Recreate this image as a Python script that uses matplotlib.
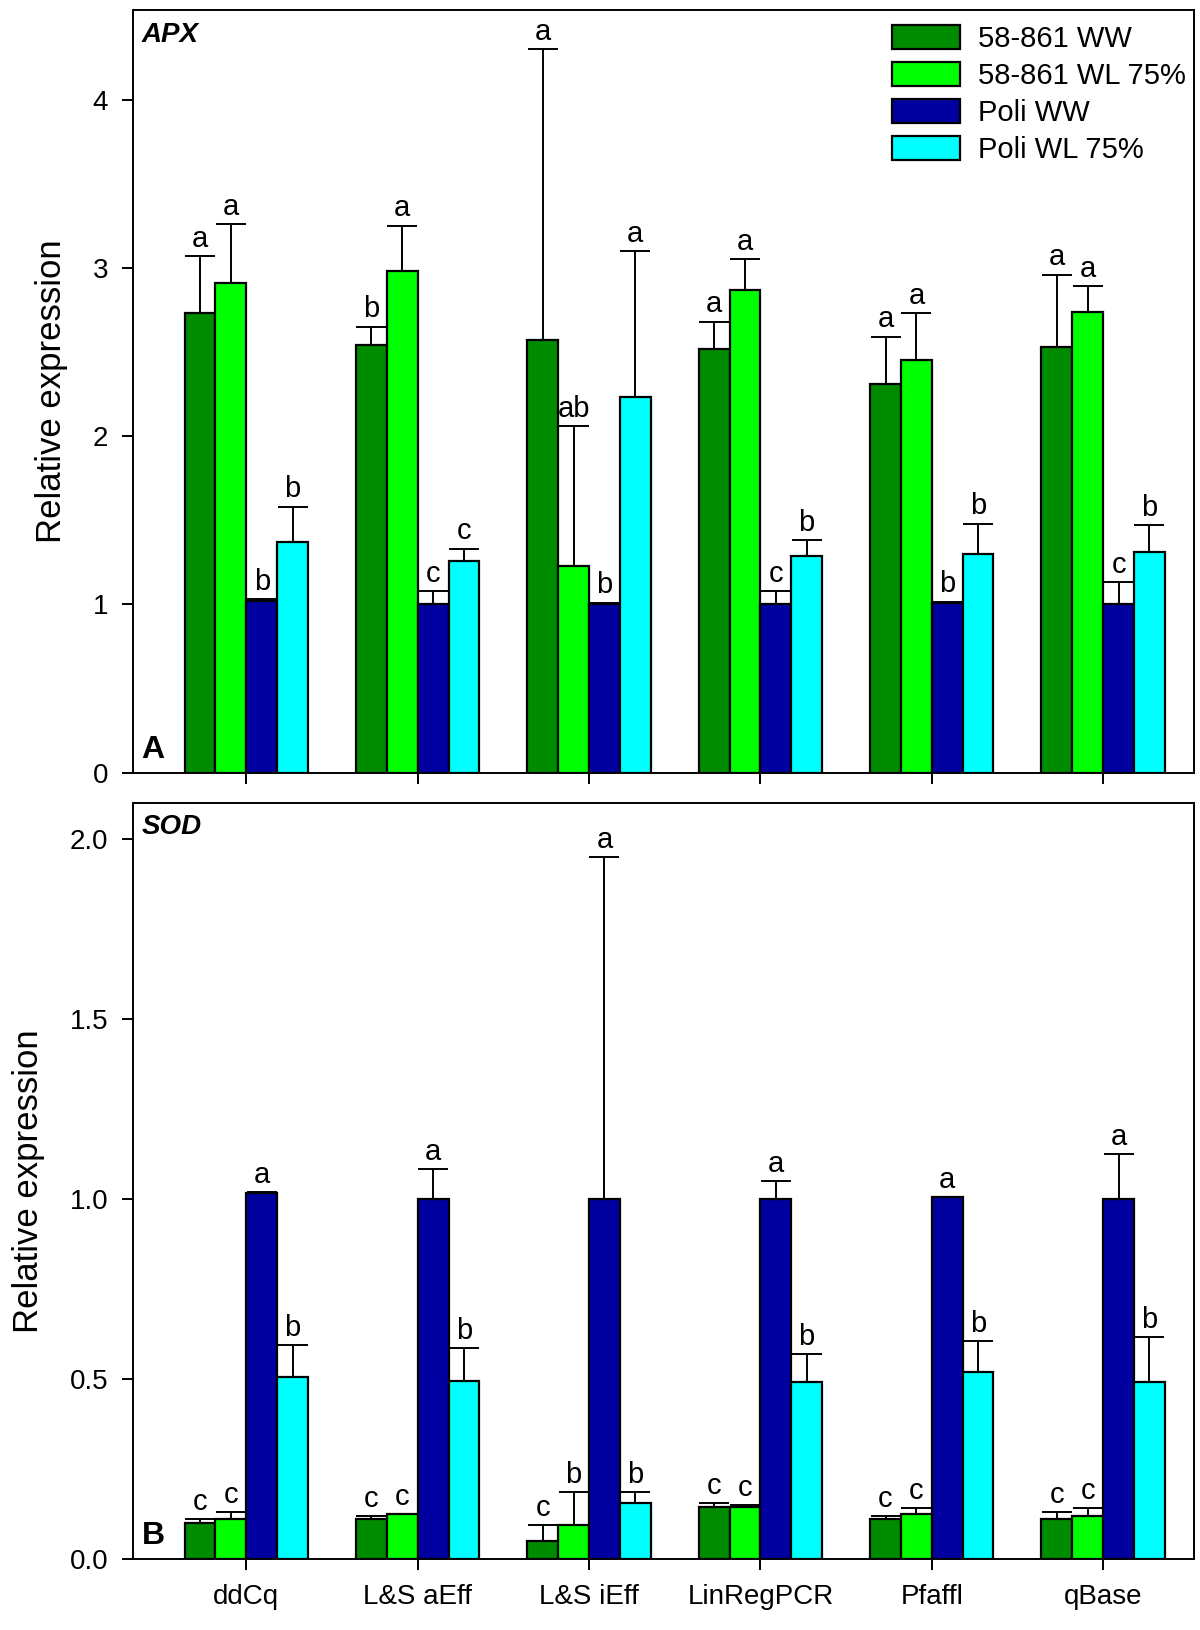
import numpy as np
import matplotlib.pyplot as plt

plt.rcParams['font.family'] = ['Liberation Sans', 'DejaVu Sans']

methods = ['ddCq', 'L&S aEff', 'L&S iEff', 'LinRegPCR', 'Pfaffl', 'qBase']
groups = ['58-861 WW', '58-861 WL 75%', 'Poli WW', 'Poli WL 75%']
colors = ['#008c00', '#00ff00', '#0000a0', '#00ffff']

# APX: means and top of error bar, one list per group
apx_mean = [
    [2.73, 2.54, 2.57, 2.52, 2.31, 2.53],
    [2.91, 2.98, 1.23, 2.87, 2.45, 2.74],
    [1.02, 1.00, 1.00, 1.00, 1.01, 1.00],
    [1.37, 1.26, 2.23, 1.29, 1.30, 1.31],
]
apx_top = [
    [3.07, 2.65, 4.30, 2.68, 2.59, 2.96],
    [3.26, 3.25, 2.06, 3.05, 2.73, 2.89],
    [1.03, 1.08, 1.01, 1.08, 1.015, 1.13],
    [1.58, 1.33, 3.10, 1.38, 1.48, 1.47],
]
apx_letters = [
    ['a', 'b', 'a', 'a', 'a', 'a'],
    ['a', 'a', 'ab', 'a', 'a', 'a'],
    ['b', 'c', 'b', 'c', 'b', 'c'],
    ['b', 'c', 'a', 'b', 'b', 'b'],
]

# SOD
sod_mean = [
    [0.10, 0.11, 0.05, 0.145, 0.11, 0.11],
    [0.11, 0.125, 0.095, 0.145, 0.125, 0.12],
    [1.015, 1.00, 1.00, 1.00, 1.005, 1.00],
    [0.505, 0.495, 0.155, 0.49, 0.52, 0.49],
]
sod_top = [
    [0.11, 0.12, 0.095, 0.155, 0.12, 0.13],
    [0.13, 0.125, 0.185, 0.15, 0.14, 0.14],
    [1.02, 1.083, 1.95, 1.05, 1.005, 1.125],
    [0.595, 0.585, 0.185, 0.57, 0.605, 0.615],
]
sod_letters = [
    ['c', 'c', 'c', 'c', 'c', 'c'],
    ['c', 'c', 'b', 'c', 'c', 'c'],
    ['a', 'a', 'a', 'a', 'a', 'a'],
    ['b', 'b', 'b', 'b', 'b', 'b'],
]

fig = plt.figure(figsize=(12, 16.3), dpi=100)
ax1 = fig.add_axes([0.111, 0.526, 0.884, 0.4676])
ax2 = fig.add_axes([0.111, 0.0437, 0.884, 0.4638])

x = np.arange(len(methods))
w = 0.18


def panel(ax, mean, top, letters, ylim, pad):
    for i in range(4):
        xs = x + (i - 1.5) * w
        m = np.array(mean[i])
        t = np.array(top[i])
        ax.bar(xs, m, width=w, color=colors[i], edgecolor='black',
               linewidth=1.6, label=groups[i], zorder=2)
        ax.errorbar(xs, m, yerr=[np.zeros_like(m), t - m], fmt='none',
                    ecolor='black', elinewidth=1.4, capsize=11, capthick=1.4,
                    zorder=3)
        for xi, ti, lab in zip(xs, t, letters[i]):
            ax.text(xi, ti + pad, lab, ha='center', va='bottom', fontsize=21)
    ax.set_xlim(-0.66, 5.53)
    ax.set_ylim(0, ylim)
    ax.set_xticks(x)
    ax.tick_params(axis='both', direction='out', length=8, width=1.4,
                   labelsize=20, pad=10)
    for s in ax.spines.values():
        s.set_linewidth(1.4)
    ax.set_ylabel('Relative expression', fontsize=25, labelpad=18)


panel(ax1, apx_mean, apx_top, apx_letters, 4.53, 0.02)
ax1.set_yticks([0, 1, 2, 3, 4])
ax1.set_xticklabels([])
ax1.text(0.008, 0.985, 'APX', transform=ax1.transAxes, fontsize=20,
         fontweight='bold', style='italic', va='top')
ax1.text(0.008, 0.01, 'A', transform=ax1.transAxes, fontsize=23,
         fontweight='bold', va='bottom')
ax1.legend(loc='upper right', frameon=False, fontsize=21,
           handlelength=2.35, handleheight=0.9, handletextpad=0.6,
           labelspacing=0.3, borderaxespad=0.1,
           bbox_to_anchor=(1.006, 1.0))

panel(ax2, sod_mean, sod_top, sod_letters, 2.1, 0.008)
ax2.set_yticks([0, 0.5, 1.0, 1.5, 2.0])
ax2.set_yticklabels(['0.0', '0.5', '1.0', '1.5', '2.0'])
ax2.set_xticklabels(methods, fontsize=20)
ax2.text(0.008, 0.985, 'SOD', transform=ax2.transAxes, fontsize=20,
         fontweight='bold', style='italic', va='top')
ax2.text(0.008, 0.01, 'B', transform=ax2.transAxes, fontsize=23,
         fontweight='bold', va='bottom')

fig.savefig('out.png', dpi=100)
